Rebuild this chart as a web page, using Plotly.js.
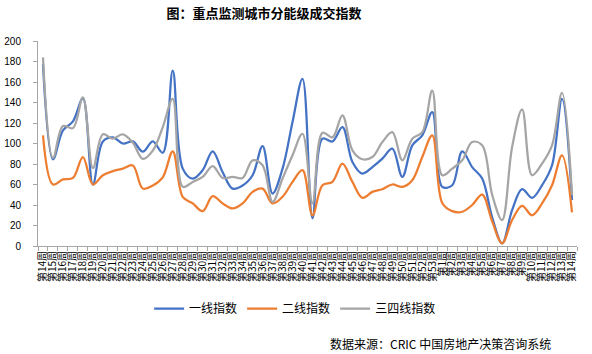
<!DOCTYPE html>
<html>
<head>
<meta charset="utf-8">
<script src="https://cdn.plot.ly/plotly-3.0.1.min.js"></script>
<style>html,body{margin:0;padding:0;background:#fff;}#chart{width:592px;height:354px;}</style>
</head>
<body>
<div id="chart"></div>
<script>
const weeks = [14,15,16,17,18,19,20,21,22,23,24,25,26,27,28,29,30,31,32,33,34,35,36,37,38,39,40,41,42,43,44,45,46,47,48,49,50,51,52,53,1,2,3,4,5,6,7,8,9,10,11,12,13,14];
const tickLabels = weeks.map(w => '第' + w + '周');
const tier1 = [177.6,84.6,112.8,121.5,144,60,102,106,100,102,92,102,91,171,75.5,65.8,74,92.4,72,56,59,69,97.5,51.2,75.5,121,163,27,104.7,102,116,82,70.7,77,85.2,95,67.4,98.2,108,130.6,57.7,59.3,92.4,77,65.8,28,2.6,35,55.4,47,59.3,78.8,143.6,44.7];
const tier2 = [108,60,65,66.4,86.8,60,69,73,75.5,78.6,56,59,67,92.4,48,41.5,34,48.6,41.5,36.6,41.5,52.8,56,41.5,48,62.5,74,30,59.3,62.5,80.4,62.5,47,52.8,55.4,60,57.7,64.2,86.8,108,42,34,33.4,40,50.2,24,2.6,25.3,39.2,30,41.5,59.3,88.5,32.7];
const tier34 = [184,86,117,115,145,76,109,104.7,109,100.8,85,93,116,143.6,57.7,62.5,67.4,78,66.4,67.4,66.4,83.6,78.8,43,65.8,88.5,109.5,41.5,110.5,106,127.4,93.3,84.6,86.8,101.4,111,83.6,104.7,111,151.7,69,75.5,83.6,101.4,98.2,50,25.3,96.6,133.2,69,80.4,98.2,149.4,49.6];
const seriesNames = ['一线指数','二线指数','三四线指数'];
const colors = ['#4472C4','#ED7D31','#A5A5A5'];

const idx = weeks.map((_, i) => i);
const data = [tier1, tier2, tier34].map((ys, k) => ({
  x: idx, y: ys, type: 'scatter', mode: 'lines', name: seriesNames[k],
  line: {color: colors[k], width: 2.25, shape: 'spline', smoothing: 1},
  hoverinfo: 'skip'
}));

const cjk = '"Noto Sans CJK SC", "Liberation Sans", sans-serif';
const layout = {
  width: 592, height: 354,
  margin: {l: 38, r: 15, t: 41, b: 108},
  paper_bgcolor: '#ffffff', plot_bgcolor: '#ffffff',
  title: {text: '<b>图：重点监测城市分能级成交指数</b>', x: 264/592, xanchor: 'center', y: 1 - 13/354, yanchor: 'middle',
          font: {family: cjk, size: 13, color: '#000000'}},
  showlegend: true,
  legend: {orientation: 'h', x: 0.477, xanchor: 'center', y: -0.235, yanchor: 'top',
           font: {family: cjk, size: 12, color: '#000000'}, itemwidth: 30, tracegroupgap: 0},
  xaxis: {
    range: [-0.5, 53.5], tickmode: 'array', tickvals: idx, ticktext: tickLabels,
    tickangle: -90, ticks: '', showgrid: false, zeroline: false,
    showline: true, linecolor: '#a6a6a6', linewidth: 1,
    tickfont: {family: cjk, size: 10, color: '#000000'},
    minor: {ticks: 'outside', tick0: 0.5, dtick: 1, ticklen: 4, tickcolor: '#a6a6a6', showgrid: false}
  },
  yaxis: {
    range: [0, 200], tickmode: 'linear', tick0: 0, dtick: 20,
    ticks: 'outside', ticklen: 4, tickcolor: '#a6a6a6',
    showgrid: false, zeroline: false, showline: true, linecolor: '#a6a6a6', linewidth: 1,
    tickfont: {family: '"Liberation Sans", sans-serif', size: 10, color: '#000000'},
    ticklabelstandoff: 10
  },
  annotations: [{
    text: '数据来源：CRIC 中国房地产决策咨询系统', xref: 'paper', yref: 'paper',
    x: (553 - 38) / 539, xanchor: 'right', y: (246 - 343) / 205, yanchor: 'middle',
    showarrow: false, font: {family: cjk, size: 12, color: '#000000'}
  }]
};
Plotly.newPlot('chart', data, layout, {staticPlot: true, displayModeBar: false});
</script>
</body>
</html>
